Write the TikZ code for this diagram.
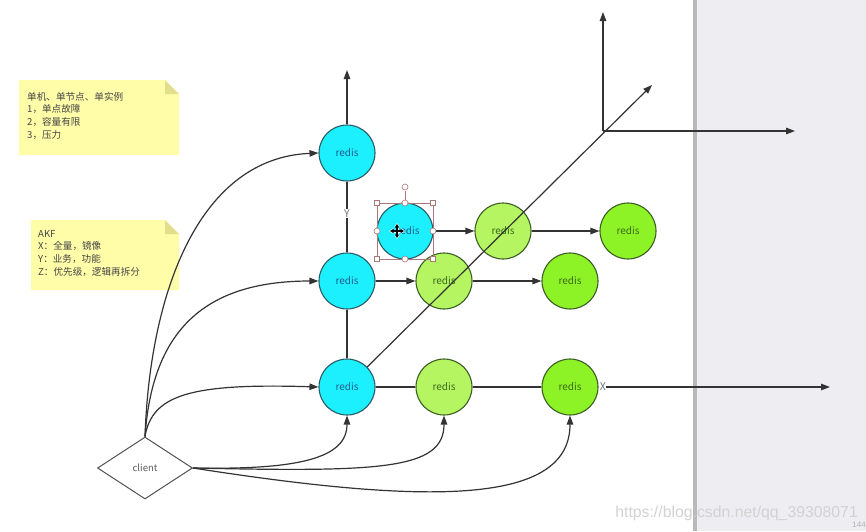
\documentclass[tikz,border=0pt]{standalone}
\usepackage{fontspec}
\setmainfont{Noto Sans CJK SC}
\newfontfamily\wmfont{Liberation Sans}
\usetikzlibrary{arrows.meta,shapes.geometric}
\definecolor{cyanfill}{HTML}{1CF0FF}
\definecolor{cyanline}{HTML}{2A5C66}
\definecolor{cyantext}{HTML}{1F5F8B}
\definecolor{gLfill}{HTML}{B5F562}
\definecolor{gBfill}{HTML}{8EF326}
\definecolor{gline}{HTML}{3C5E24}
\definecolor{gtext}{HTML}{3A6B1C}
\definecolor{notefill}{HTML}{FFFDA8}
\definecolor{notefold}{HTML}{E2DE8E}
\definecolor{notetext}{HTML}{454545}
\definecolor{ink}{HTML}{333333}
\definecolor{panel}{HTML}{EEEEF2}
\definecolor{handlec}{HTML}{A87878}
\tikzset{
  redisC/.style={circle, draw=cyanline, line width=1.1pt, fill=cyanfill, minimum size=56pt, inner sep=0pt, text=cyantext, font=\fontsize{10}{12}\selectfont},
  redisL/.style={redisC, draw=gline, fill=gLfill, text=gtext},
  redisB/.style={redisC, draw=gline, fill=gBfill, text=gtext},
  arr/.style={draw=ink, line width=1.2pt, -{Triangle[length=9pt,width=6.5pt]}},
  plain/.style={draw=ink, line width=1.2pt},
  notetxt/.style={anchor=north west, align=left, text=notetext, inner sep=0pt, font=\fontsize{9.6}{12.6}\selectfont},
  axlabel/.style={fill=white, inner sep=0.6pt, text=gray!90!black, font=\fontsize{10.5}{11}\selectfont},
  handlesq/.style={draw=handlec, fill=white, line width=0.6pt, minimum size=5pt, inner sep=0pt, rectangle},
  handleci/.style={draw=handlec, fill=white, line width=0.6pt, minimum size=6pt, inner sep=0pt, circle},
}
\begin{document}
\begin{tikzpicture}[x=1pt,y=-1pt]
\useasboundingbox (0,0) rectangle (866,531);
% background
\fill[white] (0,0) rectangle (866,531);
\fill[panel] (696,0) rectangle (866,531);
\fill[gray!55] (693,0) rectangle (697,531);

% notes
\fill[notefill] (19,80) -- (165,80) -- (179,94) -- (179,155) -- (19,155) -- cycle;
\fill[notefold] (165,80) -- (179,94) -- (165,94) -- cycle;
\node[notetxt] (n1) at (27,92) {单机、单节点、单实例\\1，单点故障\\2，容量有限\\3，压力};
\fill[notefill] (31,220) -- (165,220) -- (179,234) -- (179,290) -- (31,290) -- cycle;
\fill[notefold] (165,220) -- (179,234) -- (165,234) -- cycle;
\node[notetxt] (n2) at (38,230) {AKF\\X：全量，镜像\\Y：业务，功能\\Z：优先级，逻辑再拆分};

% top-right axes
\coordinate (o) at (603,131);
\coordinate (oy) at (603,12);
\coordinate (ox) at (795,131);
\coordinate (zend) at (652,85);
\draw[arr] (o) -- (oy);
\draw[arr] (o) -- (ox);

% nodes
\node[redisC] (c1) at (347,153) {redis};
\node[redisC] (c2) at (347,281) {redis};
\node[redisC] (c3) at (347,387) {redis};
\node[redisL] (g2a) at (444,281) {redis};
\node[redisB] (g2b) at (570,281) {redis};
\node[redisL] (g1a) at (503,231) {redis};
\node[redisB] (g1b) at (628,231) {redis};
\node[redisL] (g3a) at (444,387) {redis};
\node[redisB] (g3b) at (570,387) {redis};
\node[redisC] (c4) at (405,231) {\hspace{6pt}redis};
\node[diamond, draw=ink!85, line width=1pt, fill=white, aspect=1.53, minimum width=95pt, minimum height=62pt, inner sep=0pt, text=ink!80, font=\fontsize{9.5}{11}\selectfont] (cl) at (145,468) {client};

\coordinate (ytop) at (347,70);
\coordinate (xend) at (830,387);

% Y axis
\draw[plain] (c3) -- (c2);
\draw[plain] (c2) -- node[axlabel, pos=0.55] (ylab) {Y} (c1);
\draw[arr] (c1) -- (ytop);
% X axis
\draw[plain] (c3) -- (g3a);
\draw[plain] (g3a) -- (g3b);
\draw[arr] (g3b) -- node[axlabel, pos=0, anchor=west] (xlab) {X} (xend);
% rows
\draw[arr] (c2) -- (g2a);
\draw[arr] (g2a) -- (g2b);
\draw[arr] (c4) -- (g1a);
\draw[arr] (g1a) -- (g1b);
% Z axis
\draw[arr] (c3) -- (zend);

% client curves
\draw[arr] (cl.north) .. controls (150,290) and (200,158) .. (c1.west);
\draw[arr] (cl.north) .. controls (152,335) and (200,281) .. (c2.west);
\draw[arr] (cl.north) .. controls (152,395) and (190,383) .. (c3.west);
\draw[arr] (cl.east) .. controls (300,470) and (347,458) .. (c3.south);
\draw[arr] (cl.east) .. controls (380,472) and (444,470) .. (g3a.south);
\draw[arr] (cl.east) .. controls (430,505) and (570,505) .. (g3b.south);

% selection handles
\draw[handlec, line width=0.6pt] (377,203) rectangle (433,259);
\draw[handlec, line width=0.6pt] (405,203) -- (405,191);
\node[handleci] (h0) at (405,187) {};
\node[handlesq] (h1) at (377,203) {};
\node[handlesq] (h2) at (433,203) {};
\node[handlesq] (h3) at (377,259) {};
\node[handlesq] (h4) at (433,259) {};
\node[handleci] (h5) at (405,203) {};
\node[handleci] (h6) at (377,231) {};
\node[handleci] (h7) at (433,231) {};
\node[handleci] (h8) at (405,259) {};
% move cursor
\begin{scope}[shift={(397,231)}]
  \draw[white, line width=3pt, {Triangle[length=4pt,width=5pt]}-{Triangle[length=4pt,width=5pt]}] (-8,0) -- (8,0);
  \draw[white, line width=3pt, {Triangle[length=4pt,width=5pt]}-{Triangle[length=4pt,width=5pt]}] (0,-8) -- (0,8);
  \draw[black, line width=1.2pt, {Triangle[length=3.5pt,width=4pt]}-{Triangle[length=3.5pt,width=4pt]}] (-7,0) -- (7,0);
  \draw[black, line width=1.2pt, {Triangle[length=3.5pt,width=4pt]}-{Triangle[length=3.5pt,width=4pt]}] (0,-7) -- (0,7);
\end{scope}

% watermark
\node[text=gray!35, font=\wmfont\fontsize{15.8}{18}\selectfont, anchor=east, inner sep=0pt] (wm) at (858,513) {https://blog.csdn.net/qq\_39308071};
\node[text=gray!60, font=\wmfont\fontsize{8}{9}\selectfont, anchor=east, inner sep=0pt] (pg) at (866,525) {144};
\end{tikzpicture}
\end{document}
